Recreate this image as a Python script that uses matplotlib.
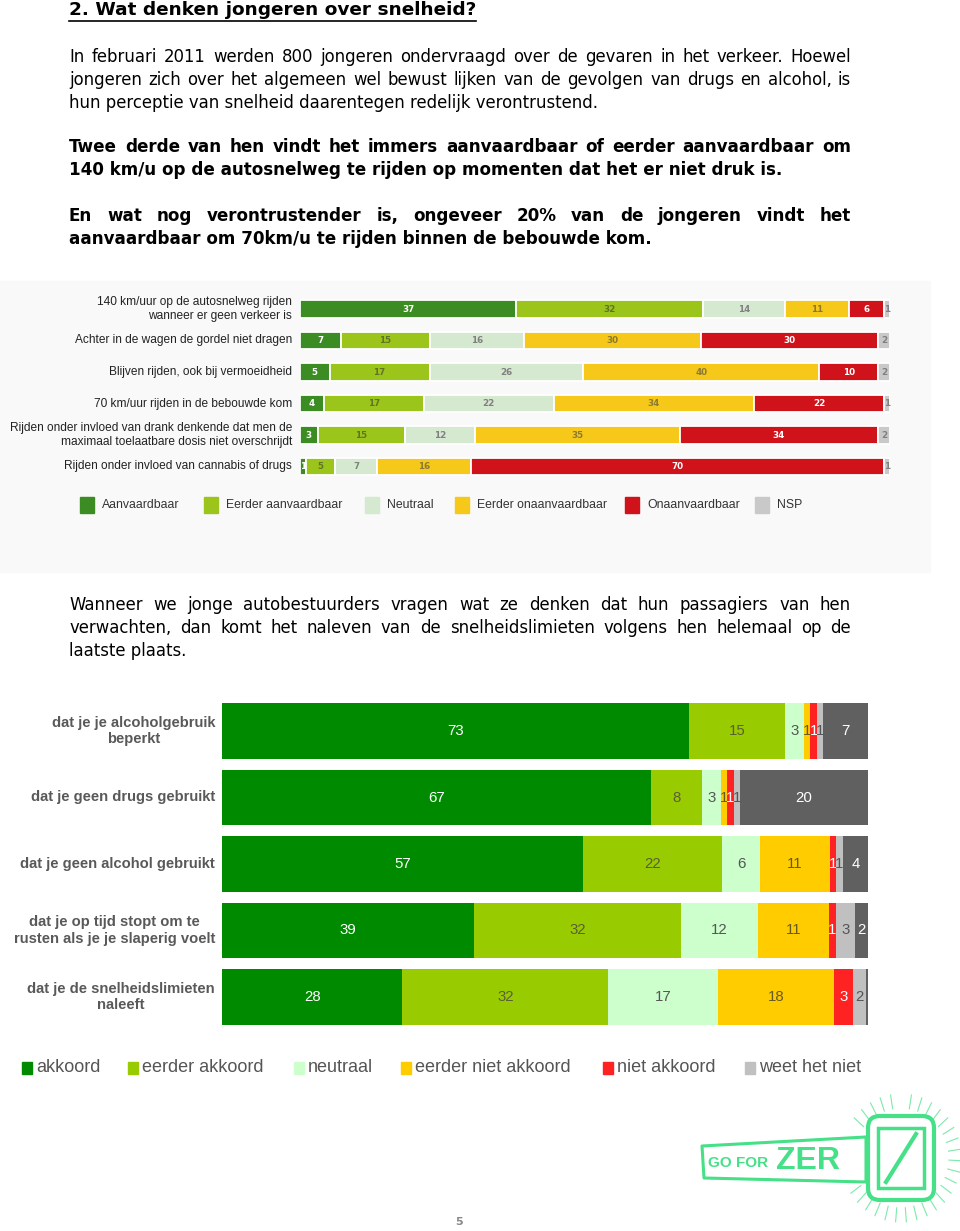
import matplotlib
matplotlib.use('Agg')
import matplotlib.pyplot as plt
from matplotlib.patches import Rectangle, FancyBboxPatch, Polygon
import numpy as np

# ---- data: chart 1 (jongeren, aanvaardbaarheid) ----
c1_rows = ['140 km/uur op de autosnelweg rijden\nwanneer er geen verkeer is',
           'Achter in de wagen de gordel niet dragen',
           'Blijven rijden, ook bij vermoeidheid',
           '70 km/uur rijden in de bebouwde kom',
           'Rijden onder invloed van drank denkende dat men de\nmaximaal toelaatbare dosis niet overschrijdt',
           'Rijden onder invloed van cannabis of drugs']
c1_series = ['Aanvaardbaar', 'Eerder aanvaardbaar', 'Neutraal',
             'Eerder onaanvaardbaar', 'Onaanvaardbaar', 'NSP']
c1_aanv = [37, 7, 5, 4, 3, 1]
c1_eerder_aanv = [32, 15, 17, 17, 15, 5]
c1_neutraal = [14, 16, 26, 22, 12, 7]
c1_eerder_onaanv = [11, 30, 40, 34, 35, 16]
c1_onaanv = [6, 30, 10, 22, 34, 70]
c1_nsp = [1, 2, 2, 1, 2, 1]
c1_colors = ['#3b8c22', '#9cc51b', '#d5e8d0', '#f6c81a', '#d0121b', '#c9c9c9']
c1_txt = ['white', '#5f7424', '#808080', '#8a7a30', 'white', '#808080']

# ---- data: chart 2 (passagiers) ----
c2_rows = ['dat je je alcoholgebruik\nbeperkt',
           'dat je geen drugs gebruikt',
           'dat je geen alcohol gebruikt',
           'dat je op tijd stopt om te\nrusten als je je slaperig voelt',
           'dat je de snelheidslimieten\nnaleeft']
c2_series = ['akkoord', 'eerder akkoord', 'neutraal',
             'eerder niet akkoord', 'niet akkoord', 'weet het niet']
c2_akkoord = [73, 67, 57, 39, 28]
c2_eerder_akkoord = [15, 8, 22, 32, 32]
c2_neutraal = [3, 3, 6, 12, 17]
c2_eerder_niet = [1, 1, 11, 11, 18]
c2_niet = [1, 1, 1, 1, 3]
c2_weet_niet = [1, 1, 1, 3, 2]
c2_rest = [7, 20, 4, 2, 0.3]
c2_colors = ['#008a00', '#99cc00', '#ccffcc', '#ffcc00', '#ff2222', '#c0c0c0', '#606060']
c2_txt = ['white', '#5a6030', '#555555', '#665a20', 'white', '#555555', 'white']

W, H = 960, 1231
fig = plt.figure(figsize=(9.6, 12.31), dpi=100)
page = fig.add_axes([0, 0, 1, 1])
page.set_xlim(0, W)
page.set_ylim(H, 0)
page.axis('off')
renderer = fig.canvas.get_renderer()

ARIAL = ['Liberation Sans', 'DejaVu Sans']


def px_axes(x0, y0, x1, y1):
    a = fig.add_axes([x0 / W, 1 - y1 / H, (x1 - x0) / W, (y1 - y0) / H])
    a.axis('off')
    return a


def put_line(s, x0, y, size, weight='normal', x1=None):
    words = s.split(' ')
    if x1 is None:
        page.text(x0, y, s, fontsize=size, weight=weight, va='center', ha='left', color='black')
        return
    ts = [page.text(0, y, w, fontsize=size, weight=weight, va='center', ha='left', color='black')
          for w in words]
    widths = [t.get_window_extent(renderer).width for t in ts]
    gap = (x1 - x0 - sum(widths)) / (len(words) - 1)
    x = x0
    for t, w in zip(ts, widths):
        t.set_x(x)
        x += w + gap


# ---- heading and paragraphs ----
page.text(69, 10, '2. Wat denken jongeren over snelheid?', fontsize=13.3, weight='bold',
          va='center', ha='left')
page.plot([69, 476], [21, 21], color='black', lw=1.2)

para1 = ['In februari 2011 werden 800 jongeren ondervraagd over de gevaren in het verkeer. Hoewel',
         'jongeren zich over het algemeen wel bewust lijken van de gevolgen van drugs en alcohol, is',
         'hun perceptie van snelheid daarentegen redelijk verontrustend.']
para2 = ['Twee derde van hen vindt het immers aanvaardbaar of eerder aanvaardbaar om',
         '140 km/u op de autosnelweg te rijden op momenten dat het er niet druk is.']
para3 = ['En wat nog verontrustender is, ongeveer 20% van de jongeren vindt het',
         'aanvaardbaar om 70km/u te rijden binnen de bebouwde kom.']
para4 = ['Wanneer we jonge autobestuurders vragen wat ze denken dat hun passagiers van hen',
         'verwachten, dan komt het naleven van de snelheidslimieten volgens hen helemaal op de',
         'laatste plaats.']

for lines, y0, wt, sz in [(para1, 57, 'normal', 11.9), (para2, 147, 'bold', 12.1),
                          (para3, 216, 'bold', 12.1), (para4, 605, 'normal', 11.9)]:
    for i, s in enumerate(lines):
        last = i == len(lines) - 1
        put_line(s, 69, y0 + i * 23, sz, wt, None if last else 851)

# ---- chart 1 ----
page.add_patch(Rectangle((0, 281), 930, 291, color='#f9f9f9', zorder=0))
ax1 = px_axes(300, 293.25, 890, 482.25)
c1 = np.array([c1_aanv, c1_eerder_aanv, c1_neutraal, c1_eerder_onaanv, c1_onaanv, c1_nsp], float)
c1n = c1 / c1.sum(axis=0) * 100
left = np.zeros(len(c1_rows))
ypos = np.arange(len(c1_rows))
for k in range(len(c1_series)):
    ax1.barh(ypos, c1n[k], left=left, height=0.57, color=c1_colors[k],
             edgecolor='white', linewidth=1.3)
    for j in range(len(c1_rows)):
        ax1.text(left[j] + c1n[k][j] / 2, j, f'{int(c1[k][j])}', ha='center', va='center',
                 fontsize=6.3, weight='bold', color=c1_txt[k])
    left += c1n[k]
ax1.set_xlim(0, 100)
ax1.set_ylim(len(c1_rows) - 0.5, -0.5)
for j, lab in enumerate(c1_rows):
    page.text(292, 309 + j * 31.5, lab, ha='right', va='center', multialignment='right',
              fontsize=8.6, family=ARIAL, color='#222222', linespacing=1.3)

c1_leg_x = [80, 204, 365, 455, 625, 755]
for k, name in enumerate(c1_series):
    page.add_patch(Rectangle((c1_leg_x[k], 497), 14, 16, color=c1_colors[k]))
    page.text(c1_leg_x[k] + 22, 505, name, ha='left', va='center', fontsize=8.8,
              family=ARIAL, color='#333333')

# ---- chart 2 ----
ax2 = px_axes(222, 697.75, 868, 1030.25)
c2 = np.array([c2_akkoord, c2_eerder_akkoord, c2_neutraal, c2_eerder_niet,
               c2_niet, c2_weet_niet, c2_rest], float)
c2n = c2 / c2.sum(axis=0) * 100
left = np.zeros(len(c2_rows))
ypos = np.arange(len(c2_rows))
for k in range(c2.shape[0]):
    ax2.barh(ypos, c2n[k], left=left, height=0.84, color=c2_colors[k], linewidth=0)
    for j in range(len(c2_rows)):
        if c2[k][j] >= 1:
            ax2.text(left[j] + c2n[k][j] / 2, j, f'{int(c2[k][j])}', ha='center', va='center',
                     fontsize=10.8, family=ARIAL, color=c2_txt[k])
    left += c2n[k]
ax2.set_xlim(0, 100)
ax2.set_ylim(len(c2_rows) - 0.5, -0.5)
for j, lab in enumerate(c2_rows):
    page.text(215, 731 + j * 66.5, lab, ha='right', va='center', multialignment='center',
              fontsize=10.6, family=ARIAL, weight='bold', color='#595959', linespacing=1.25)

c2_leg_x = [22, 128, 294, 401, 603, 745]
for k, name in enumerate(c2_series):
    page.add_patch(Rectangle((c2_leg_x[k], 1062), 10, 12, color=c2_colors[k]))
    page.text(c2_leg_x[k] + 14, 1068, name, ha='left', va='center', fontsize=13,
              family=ARIAL, color='#555555')

# ---- logo ----
mint = '#45e087'
page.add_patch(Polygon([[702, 1146], [866, 1137], [866, 1182], [704, 1178]], closed=True,
                       fill=False, edgecolor=mint, lw=2.2, joinstyle='round'))
page.text(708, 1163, 'GO FOR', fontsize=11, family=ARIAL, weight='bold', color=mint,
          ha='left', va='center')
page.text(776, 1161, 'ZER', fontsize=23, family=ARIAL, weight='bold', color=mint,
          ha='left', va='center')
cx, cy = 901, 1158
for ang in np.linspace(-80, 260, 34):
    a = np.deg2rad(ang)
    if 150 < ang < 215:
        continue
    page.plot([cx + 48 * np.cos(a), cx + 60 * np.cos(a)],
              [cy + 50 * np.sin(a), cy + 64 * np.sin(a)], color=mint, lw=0.8, alpha=0.7)
page.add_patch(FancyBboxPatch((868, 1116), 66, 84, boxstyle='round,pad=0,rounding_size=12',
                              facecolor='white', edgecolor=mint, lw=3))
page.add_patch(Polygon([[878, 1128], [924, 1128], [924, 1188], [878, 1188]], closed=True,
                       fill=False, edgecolor=mint, lw=2.5))
page.plot([916, 886], [1134, 1182], color=mint, lw=3)

page.text(459, 1222, '5', fontsize=8, weight='bold', color='#888888', ha='center', va='center')

fig.savefig('out.png', dpi=100)
